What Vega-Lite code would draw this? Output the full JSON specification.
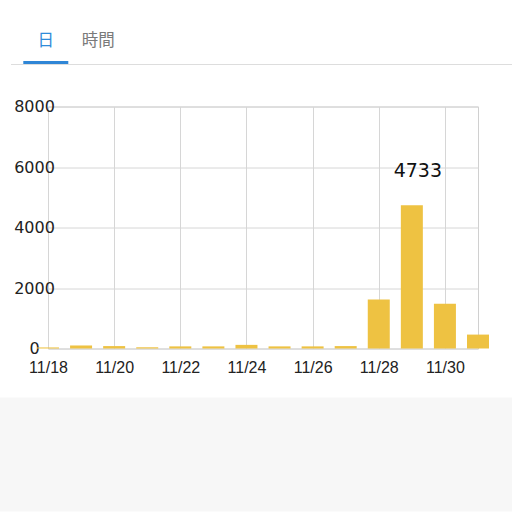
{
  "$schema": "https://vega.github.io/schema/vega-lite/v6.json",
  "padding": 0,
  "background": "#ffffff",
  "config": {"view": {"stroke": null}},
  "datasets": {
    "tabs": [
      {"tab": "日", "state": "selected"},
      {"tab": "時間", "state": "unselected"}
    ],
    "blank": [{"part": "spacer"}],
    "separator": [{"part": "separator"}],
    "footer": [{"part": "footer"}],
    "views": [
      {"date": "2018-11-18T00:00:00", "views": 35},
      {"date": "2018-11-19T00:00:00", "views": 100},
      {"date": "2018-11-20T00:00:00", "views": 80},
      {"date": "2018-11-21T00:00:00", "views": 40},
      {"date": "2018-11-22T00:00:00", "views": 70},
      {"date": "2018-11-23T00:00:00", "views": 70},
      {"date": "2018-11-24T00:00:00", "views": 120},
      {"date": "2018-11-25T00:00:00", "views": 70},
      {"date": "2018-11-26T00:00:00", "views": 70},
      {"date": "2018-11-27T00:00:00", "views": 80},
      {"date": "2018-11-28T00:00:00", "views": 1620},
      {"date": "2018-11-29T00:00:00", "views": 4733},
      {"date": "2018-11-30T00:00:00", "views": 1480},
      {"date": "2018-12-01T00:00:00", "views": 460}
    ]
  },
  "spacing": 32.5,
  "vconcat": [
    {
      "spacing": 0,
      "vconcat": [
        {
          "width": 512,
          "height": 61,
          "data": {"name": "tabs"},
          "mark": {"type": "text", "font": "Noto Sans CJK JP", "fontSize": 16.5, "baseline": "middle", "dy": 10.5},
          "encoding": {
            "x": {"field": "tab", "type": "nominal", "sort": ["日", "時間"],
                  "scale": {"type": "band", "range": [23.3, 120.8], "paddingInner": 0.143, "paddingOuter": 0},
                  "axis": null},
            "text": {"field": "tab"},
            "color": {"field": "state", "type": "nominal",
                      "scale": {"domain": ["selected", "unselected"], "range": ["#2f8bd9", "#7a7a7a"]},
                      "legend": null}
          }
        },
        {
          "width": 512,
          "height": 3,
          "data": {"name": "tabs"},
          "transform": [{"filter": "datum.state == 'selected'"}],
          "mark": {"type": "rect", "color": "#2f86d6"},
          "encoding": {
            "x": {"field": "tab", "type": "nominal",
                  "scale": {"type": "band", "domain": ["日", "時間"], "range": [23.3, 120.8], "paddingInner": 0.143, "paddingOuter": 0},
                  "axis": null}
          }
        },
        {
          "spacing": 0,
          "hconcat": [
            {
              "width": 11,
              "height": 1,
              "data": {"name": "blank"},
              "mark": {"type": "rect", "opacity": 0},
              "encoding": {}
            },
            {
              "width": 501,
              "height": 1,
              "data": {"name": "separator"},
              "mark": {"type": "rect", "color": "#dddddd"},
              "encoding": {}
            }
          ]
        }
      ]
    },
    {
      "spacing": 0,
      "vconcat": [
        {
          "spacing": 0,
          "hconcat": [
            {
              "width": 1,
              "height": 1,
              "data": {"name": "blank"},
              "mark": {"type": "rect", "opacity": 0},
              "encoding": {}
            },
            {
              "width": 430,
              "height": 242,
              "view": {"stroke": "#d0d0d0"},
              "data": {"name": "views"},
              "encoding": {
                "x": {"field": "date", "type": "temporal",
                      "scale": {"domain": [{"year": 2018, "month": 11, "date": 18}, {"year": 2018, "month": 12, "date": 1}], "nice": false, "padding": 0},
                      "axis": {
                        "values": [
                          {"year": 2018, "month": 11, "date": 18},
                          {"year": 2018, "month": 11, "date": 20},
                          {"year": 2018, "month": 11, "date": 22},
                          {"year": 2018, "month": 11, "date": 24},
                          {"year": 2018, "month": 11, "date": 26},
                          {"year": 2018, "month": 11, "date": 28},
                          {"year": 2018, "month": 11, "date": 30}
                        ],
                        "format": "%m/%d", "title": null, "ticks": false, "tickSize": 0, "domain": false,
                        "grid": true, "gridColor": "#d6d6d6", "labelPadding": 11, "labelFlush": false,
                        "labelFont": "Liberation Sans", "labelFontSize": 16, "labelColor": "#222222",
                        "minExtent": 48.5
                      }},
                "y": {"field": "views", "type": "quantitative",
                      "scale": {"domain": [0, 8000], "nice": false},
                      "axis": {
                        "values": [0, 2000, 4000, 6000, 8000], "format": "d", "title": null, "ticks": false, "tickSize": 0,
                        "domain": false, "grid": true, "gridColor": "#d6d6d6", "labelAlign": "center",
                        "labelPadding": 14, "labelFont": "DejaVu Sans", "labelFontSize": 16,
                        "labelColor": "#222222", "minExtent": 46, "labelFlush": false
                      }}
              },
              "layer": [
                {"mark": {"type": "bar", "size": 22, "color": "#eec242"}},
                {
                  "transform": [{"filter": "datum.views > 4000"}],
                  "mark": {"type": "text", "font": "DejaVu Sans", "fontSize": 19, "color": "#111111", "baseline": "middle", "dy": -34, "dx": 6},
                  "encoding": {"text": {"field": "views", "type": "quantitative", "format": "d"}}
                }
              ]
            }
          ]
        },
        {
          "width": 512,
          "height": 114,
          "data": {"name": "footer"},
          "mark": {"type": "rect", "color": "#f7f7f7"},
          "encoding": {}
        }
      ]
    }
  ]
}
